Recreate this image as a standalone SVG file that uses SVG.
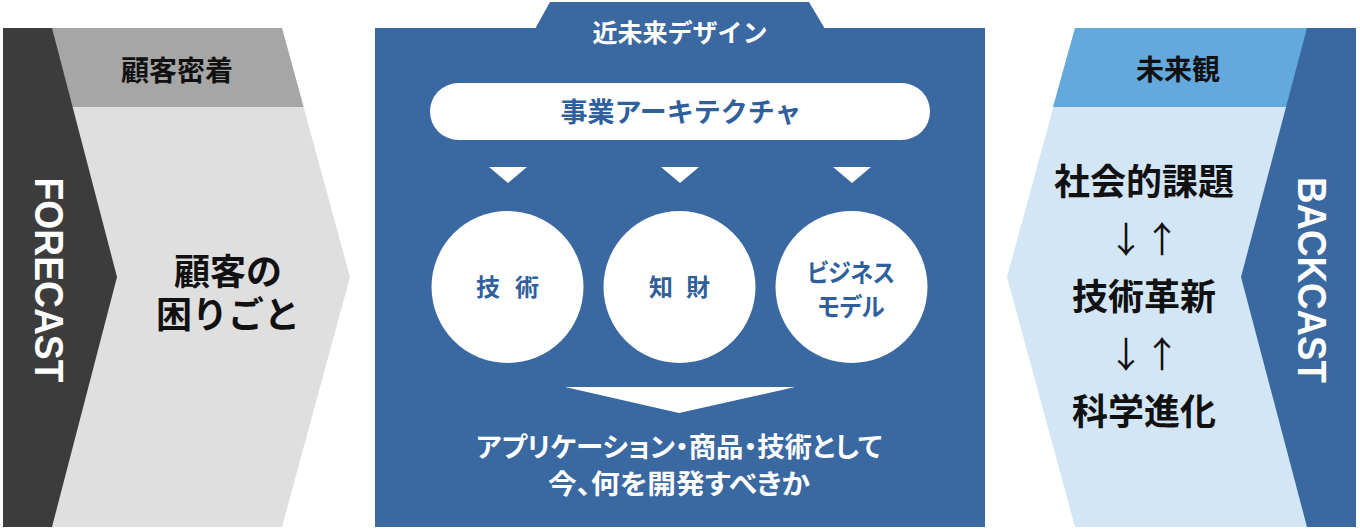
<svg xmlns="http://www.w3.org/2000/svg" width="1360" height="530" viewBox="0 0 1360 530">
<style>
.jp{font-family:"Noto Sans CJK JP","Noto Sans",sans-serif;font-weight:700;text-anchor:middle}
.pa{font-feature-settings:"palt"}
.en{font-family:"Liberation Sans",Arial,sans-serif;font-weight:700;text-anchor:middle;fill:#fff;font-size:41px}
.blk{fill:#111}
.wh{fill:#fff}
.bl{fill:#2f5f9c}
.arr{font-family:"Noto Sans CJK JP",sans-serif;font-weight:400;text-anchor:middle;fill:#111;font-size:36px}
</style>
<rect width="1360" height="530" fill="#fff"/>

<g id="forecast">
<polygon points="3,28 282,28 350,277 282,527 3,527" fill="#dfdfdf"/>
<polygon points="3,28 282,28 303.6,107 3,107" fill="#a6a6a6"/>
<polygon points="3,28 52,28 117,277 52,527 3,527" fill="#3c3c3c"/>
<text class="en" transform="translate(50,280) rotate(90)" x="0" y="14.7" textLength="205" lengthAdjust="spacingAndGlyphs">FORECAST</text>
<text class="jp blk" x="177" y="81" font-size="28">顧客密着</text>
<text class="jp blk" font-size="36"><tspan x="228" y="285">顧客の</tspan><tspan x="228" y="328">困りごと</tspan></text>
</g>

<g id="near-future-design">
<rect x="375" y="28" width="610" height="499" fill="#3a68a0"/>
<polygon points="535,29 550,2 809,2 825,29" fill="#3a68a0"/>
<text class="jp wh" x="680" y="42" font-size="25">近未来デザイン</text>
</g>

<g id="business-architecture">
<rect x="430" y="83" width="500" height="57" rx="28.5" fill="#fff"/>
<text class="jp bl" x="681" y="121.5" font-size="27">事業アーキテクチャ</text>
</g>

<g id="tech">
<circle cx="507.5" cy="287" r="76" fill="#fff"/>
<text class="jp bl" x="488 527" y="296" font-size="24">技術</text>
</g>
<g id="ip">
<circle cx="679.5" cy="287" r="76" fill="#fff"/>
<text class="jp bl" x="661 698" y="296" font-size="24">知財</text>
</g>
<g id="business-model">
<circle cx="851.5" cy="287" r="76" fill="#fff"/>
<text class="jp bl pa" x="851" y="282" font-size="25" textLength="88" lengthAdjust="spacingAndGlyphs">ビジネス</text>
<text class="jp bl pa" x="851" y="316" font-size="25" textLength="67" lengthAdjust="spacingAndGlyphs">モデル</text>
</g>

<g id="connectors">
<polygon points="489,167 527,167 508,183" fill="#fff"/>
<polygon points="661,167 699,167 680,183" fill="#fff"/>
<polygon points="833,167 871,167 852,183" fill="#fff"/>
<polygon points="565,387 795,387 679,413" fill="#fff"/>
</g>

<g id="result">
<text class="jp wh pa" x="679" y="457" font-size="27" textLength="406" lengthAdjust="spacingAndGlyphs">アプリケーション・商品・技術として</text>
<text class="jp wh pa" x="679" y="494" font-size="27" textLength="262" lengthAdjust="spacingAndGlyphs">今、何を開発すべきか</text>
</g>

<g id="backcast">
<polygon points="1075,28 1356,28 1356,527 1075,527 1007,277" fill="#d3e6f5"/>
<polygon points="1075,28 1356,28 1356,107 1053,107" fill="#64a9dc"/>
<polygon points="1307,28 1356,28 1356,527 1307,527 1241,277" fill="#3a68a0"/>
<text class="en" transform="translate(1313,280) rotate(90)" x="0" y="14.7" textLength="206" lengthAdjust="spacingAndGlyphs">BACKCAST</text>
<text class="jp blk" x="1178" y="80" font-size="28">未来観</text>
<text class="jp blk" x="1144" y="195" font-size="36">社会的課題</text>
<text class="arr" x="1144" y="253">↓↑</text>
<text class="jp blk" x="1144" y="310" font-size="36">技術革新</text>
<text class="arr" x="1144" y="368">↓↑</text>
<text class="jp blk" x="1144" y="425" font-size="36">科学進化</text>
</g>
</svg>
